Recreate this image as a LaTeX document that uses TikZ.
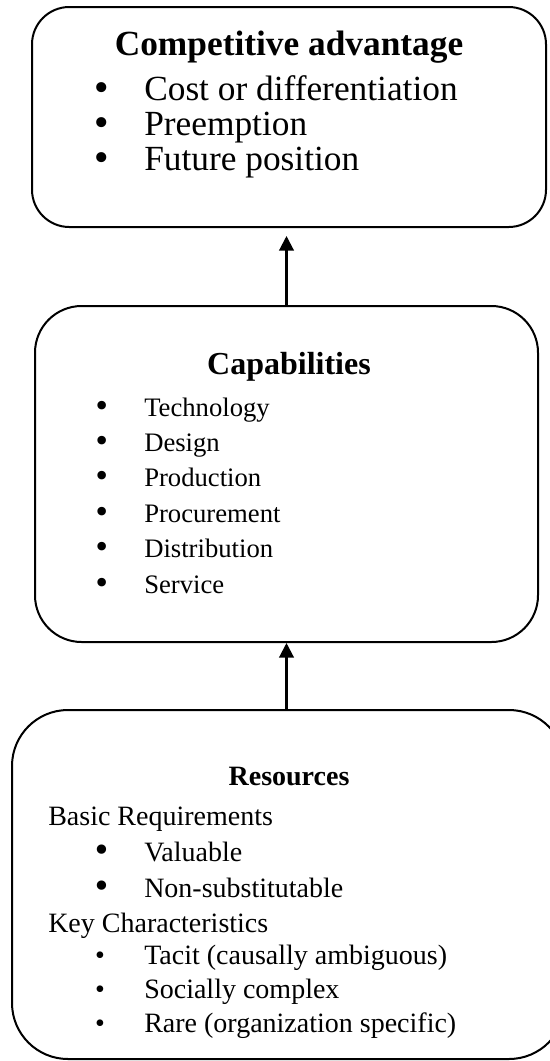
\documentclass[tikz,border=0pt]{standalone}
\usepackage{fontspec}
\setmainfont{Liberation Serif}
\newfontfamily\dotfont{DejaVu Sans}
\usetikzlibrary{arrows.meta}

\tikzset{
    box/.style = {draw, line width=1.5pt, inner sep=0pt},
    flow/.style = {line width=1.6pt, -{Triangle[width=11pt, length=11pt]}},
    txt/.style = {anchor=base west, inner sep=0pt},
    title/.style = {anchor=base, inner sep=0pt},
    dot/.style = {anchor=base, inner sep=0pt, font=\dotfont\fontsize{#1}{#1}\selectfont},
    dot/.default = 24,
    smalldot/.style = {anchor=base, inner sep=0pt, font=\fontsize{21}{21}\selectfont},
    toptext/.style = {font=\fontsize{26.5}{30}\selectfont},
    midtext/.style = {font=\fontsize{20}{24}\selectfont},
    lowtext/.style = {font=\fontsize{21}{25}\selectfont},
}

\begin{document}
\begin{tikzpicture}[x=0.75pt, y=-0.75pt]

    \useasboundingbox (0,0) rectangle (550,1061);

    % Boxes
    \node [box, rounded corners=28pt, minimum width=385.5pt, minimum height=165pt] (advantage) at (289,117) {};
    \node [box, rounded corners=35pt, minimum width=377.25pt, minimum height=252pt] (capabilities) at (286.5,474) {};
    \node [box, rounded corners=42pt, minimum width=414.75pt, minimum height=261.75pt] (resources) at (288.5,884.5) {};

    % Arrows
    \draw [flow] (resources.north -| capabilities.south) -- (capabilities.south);
    \draw [flow, shorten >=6pt] (capabilities.north) -- (capabilities.north |- advantage.south);

    % Competitive advantage
    \node [title, font=\bfseries\fontsize{26.5}{30}\selectfont] (advtitle) at (289,55) {Competitive advantage};
    \node [dot=26] (advdot1) at (102,100) {•};
    \node [dot=26] (advdot2) at (102,135) {•};
    \node [dot=26] (advdot3) at (102,170) {•};
    \node [toptext, txt] (cost) at (144,100) {Cost or differentiation};
    \node [toptext, txt] (preemption) at (144,135) {Preemption};
    \node [toptext, txt] (future) at (144,170) {Future position};

    % Capabilities
    \node [title, font=\bfseries\fontsize{24}{28}\selectfont] (captitle) at (289,374) {Capabilities};
    \node [dot=22] (capdot1) at (102,416) {•};
    \node [dot=22] (capdot2) at (102,451.4) {•};
    \node [dot=22] (capdot3) at (102,486.8) {•};
    \node [dot=22] (capdot4) at (102,522.2) {•};
    \node [dot=22] (capdot5) at (102,557.6) {•};
    \node [dot=22] (capdot6) at (102,593) {•};
    \node [midtext, txt] (technology) at (144,416) {Technology};
    \node [midtext, txt] (design) at (144,451.4) {Design};
    \node [midtext, txt] (production) at (144,486.8) {Production};
    \node [midtext, txt] (procurement) at (144,522.2) {Procurement};
    \node [midtext, txt] (distribution) at (144,557.6) {Distribution};
    \node [midtext, txt] (service) at (144,593) {Service};

    % Resources
    \node [title, font=\bfseries\fontsize{21}{25}\selectfont] (restitle) at (289,785) {Resources};
    \node [lowtext, txt] (basic) at (48,825) {Basic Requirements};
    \node [dot] (resdot1) at (102,861) {•};
    \node [dot] (resdot2) at (102,897) {•};
    \node [lowtext, txt] (valuable) at (144,861) {Valuable};
    \node [lowtext, txt] (nonsub) at (144,897) {Non-substitutable};
    \node [lowtext, txt] (key) at (48,932) {Key Characteristics};
    \node [smalldot] (resdot3) at (100,964) {•};
    \node [smalldot] (resdot4) at (100,998) {•};
    \node [smalldot] (resdot5) at (100,1032) {•};
    \node [lowtext, txt] (tacit) at (144,964) {Tacit (causally ambiguous)};
    \node [lowtext, txt] (social) at (144,998) {Socially complex};
    \node [lowtext, txt] (rare) at (144,1032) {Rare (organization specific)};

\end{tikzpicture}
\end{document}
